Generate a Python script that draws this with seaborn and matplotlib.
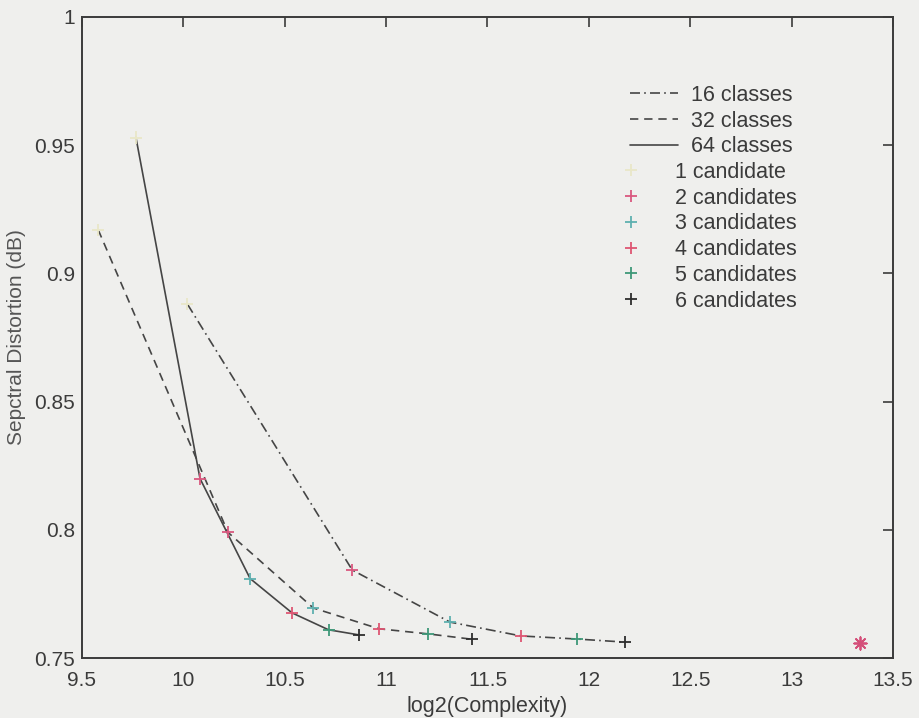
import numpy as np
import pandas as pd
import matplotlib
matplotlib.use("Agg")
import matplotlib.pyplot as plt
from matplotlib.lines import Line2D
from matplotlib.ticker import FuncFormatter
import seaborn as sns

# ---- data -------------------------------------------------------------
candidates = [1, 2, 3, 4, 5, 6]
class_labels = ["16 classes", "32 classes", "64 classes"]

x_16 = [10.02, 10.833, 11.315, 11.665, 11.941, 12.178]
y_16 = [0.888, 0.7843, 0.764, 0.7586, 0.7574, 0.7562]

x_32 = [9.58, 10.22, 10.641, 10.965, 11.208, 11.425]
y_32 = [0.917, 0.799, 0.7695, 0.7614, 0.7594, 0.7573]

x_64 = [9.766, 10.082, 10.329, 10.536, 10.716, 10.867]
y_64 = [0.953, 0.820, 0.781, 0.7676, 0.761, 0.759]

full_x = [13.337]
full_y = [0.756]

x_ticks = [9.5, 10, 10.5, 11, 11.5, 12, 12.5, 13, 13.5]
y_ticks = [0.75, 0.8, 0.85, 0.9, 0.95, 1.0]

# ---- styling ----------------------------------------------------------
sns.set_theme(style="white")
plt.rcParams["font.family"] = ["Liberation Sans", "DejaVu Sans"]

bg = "#efefed"
ink = "#3b3b3b"
line_col = "#454545"
cand_colors = ["#e9e7c8", "#d9587f", "#5eb0b0", "#de5673", "#3e9878", "#2e2e2e"]
cand_labels = ["1 candidate"] + [f"{c} candidates" for c in candidates[1:]]
dash_map = {
    "16 classes": (6, 2.5, 1, 2.5),
    "32 classes": (5, 3.5),
    "64 classes": "",
}

rows = []
for lab, xs, ys in zip(class_labels, [x_16, x_32, x_64], [y_16, y_32, y_64]):
    for c, xv, yv in zip(candidates, xs, ys):
        rows.append({"classes": lab, "candidates": c, "x": xv, "y": yv})
df = pd.DataFrame(rows)

fig = plt.figure(figsize=(9.2, 7.18), dpi=100, facecolor=bg)
ax = fig.add_axes([82 / 920, 60 / 718, 811 / 920, 641 / 718], facecolor=bg)

sns.lineplot(
    data=df, x="x", y="y", style="classes", dashes=dash_map,
    units="classes", estimator=None, sort=False, color=line_col,
    linewidth=1.2, legend=False, ax=ax,
)
sns.scatterplot(
    data=df, x="x", y="y", hue="candidates",
    palette=dict(zip(candidates, cand_colors)), marker="+",
    s=75, linewidth=1.3, legend=False, ax=ax, zorder=3,
)
sns.scatterplot(
    x=full_x, y=full_y, marker=(8, 2, 0), color="#d4507a",
    s=80, linewidth=1.3, legend=False, ax=ax, zorder=3,
)

ax.set_xlim(9.5, 13.5)
ax.set_ylim(0.75, 1.0)
ax.set_xticks(x_ticks)
ax.set_yticks(y_ticks)
fmt = FuncFormatter(lambda v, p: f"{v:g}")
ax.xaxis.set_major_formatter(fmt)
ax.yaxis.set_major_formatter(fmt)
ax.tick_params(direction="in", length=7, width=1.2, colors=ink,
               labelsize=15, top=True, right=True)
ax.tick_params(axis="x", pad=9)
ax.tick_params(axis="y", pad=5)
for s in ax.spines.values():
    s.set_color(ink)
    s.set_linewidth(1.4)

ax.set_xlabel("log2(Complexity)", fontsize=15.5, color=ink, labelpad=5)
ax.set_ylabel("Sepctral Distortion (dB)", fontsize=15, color="#555555", labelpad=6)

# ---- legends ----------------------------------------------------------
line_handles = [
    Line2D([], [], color=line_col, lw=1.2, dashes=dash_map[l]) if dash_map[l] else
    Line2D([], [], color=line_col, lw=1.2)
    for l in class_labels
]
leg1 = fig.legend(
    line_handles, class_labels, loc="upper left",
    bbox_to_anchor=(630 / 920, 1 - 85 / 718), frameon=False,
    fontsize=15.5, handlelength=2.25, handletextpad=0.6,
    labelspacing=0.22, borderpad=0, borderaxespad=0, labelcolor=ink,
)
marker_handles = [
    Line2D([], [], linestyle="none", marker="+", markersize=9,
           markeredgewidth=1.3, color=c)
    for c in cand_colors
]
leg2 = fig.legend(
    marker_handles, cand_labels, loc="upper left",
    bbox_to_anchor=(622 / 920, 1 - 162 / 718), frameon=False,
    fontsize=15.5, handlelength=0.8, handletextpad=1.65,
    labelspacing=0.22, borderpad=0, borderaxespad=0, labelcolor=ink,
)

fig.savefig("out.png", dpi=100, facecolor=bg)
